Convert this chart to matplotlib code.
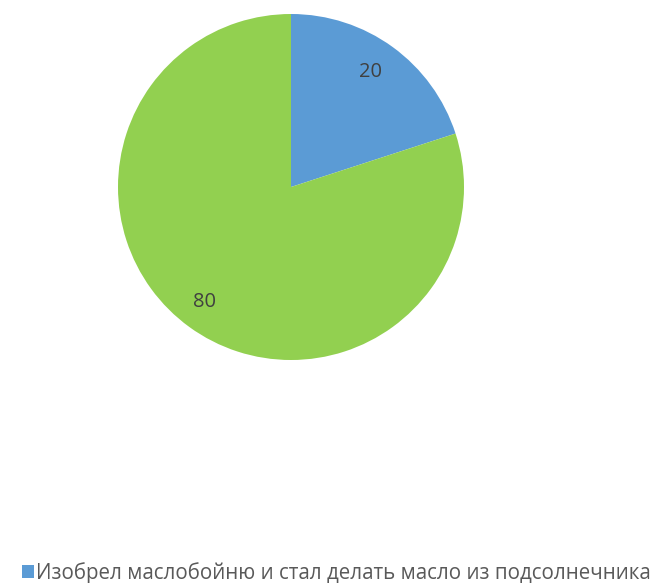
import numpy as np
import matplotlib.pyplot as plt

labels = ["Изобрел маслобойню и стал делать масло из подсолнечника", "Другое"]
values = [20, 80]
colors = ["#5B9BD5", "#92D050"]

plt.rcParams["font.family"] = ["Open Sans", "DejaVu Sans"]

W, H = 660, 583
fig = plt.figure(figsize=(W / 100, H / 100), dpi=100)

cx, cy, r = 291, 187, 173
ax = fig.add_axes([(cx - r) / W, 1 - (cy + r) / H, 2 * r / W, 2 * r / H])
wedges, texts = ax.pie(values, colors=colors, startangle=90, counterclock=False,
                       radius=1, wedgeprops=dict(linewidth=0))
ax.set_xlim(-1, 1)
ax.set_ylim(-1, 1)
ax.set_aspect("equal")
ax.axis("off")

# label angles (Excel best-fit places the big one off-centre)
label_angles = [55.5, -126.8]
label_r = [0.81, 0.83]
for v, a, lr in zip(values, label_angles, label_r):
    t = np.deg2rad(a)
    ax.text(lr * np.cos(t), lr * np.sin(t), str(v), ha="center", va="center",
            fontsize=14.5, color="#404040")

fig.legend([wedges[0]], [labels[0]], loc="center left",
           bbox_to_anchor=(3 / W, 1 - 573 / H), frameon=False, fontsize=14.8,
           handlelength=0.62, handleheight=0.62, handletextpad=0.08,
           labelcolor="#595959")

fig.savefig("out.png", dpi=100)
